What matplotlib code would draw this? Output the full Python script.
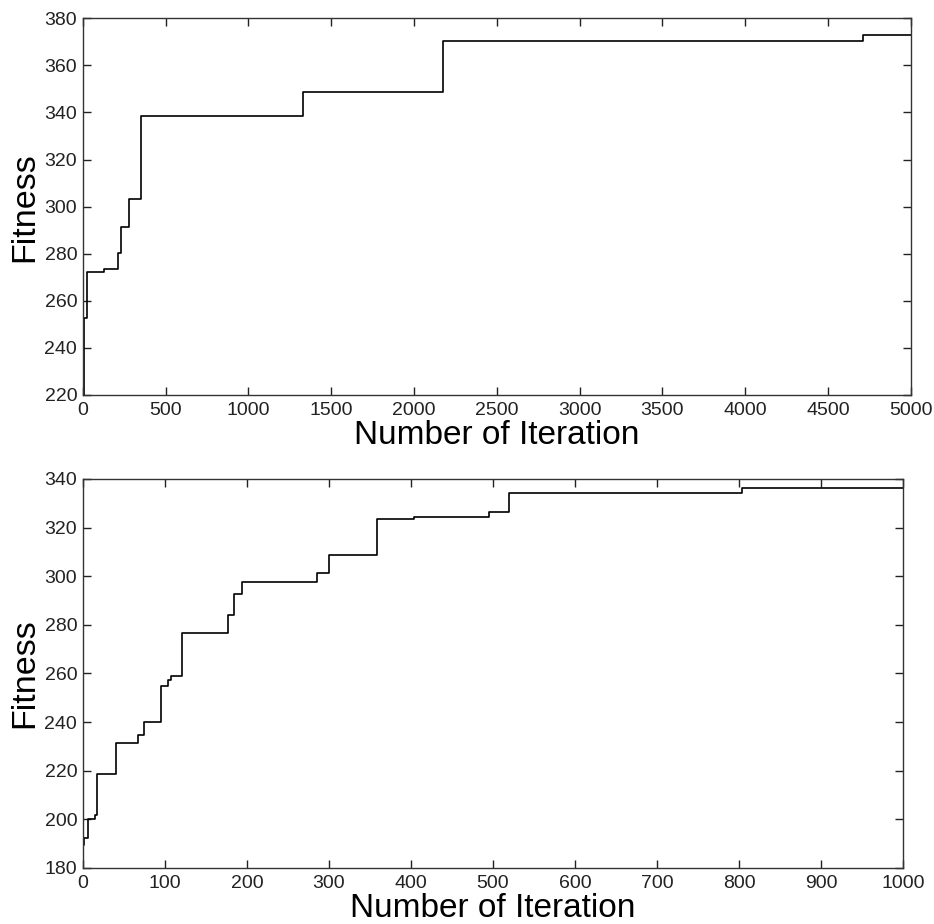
import numpy as np
import matplotlib
matplotlib.use("Agg")
import matplotlib.pyplot as plt

plt.rcParams['font.family'] = ['Liberation Sans', 'DejaVu Sans']

# top run: 5000 iterations (iteration where fitness improves, new fitness)
iter_a = [0, 8, 24, 129, 215, 229, 278, 352, 1332, 2176, 4712, 5000]
fit_a = [220, 252.7, 272.4, 273.6, 280.4, 291.3, 303.2, 338.6, 348.6, 370.3, 372.8, 372.8]

# bottom run: 1000 iterations
iter_b = [0, 2, 6, 15.5, 17.5, 40, 67, 75, 95.5, 104, 108, 121, 177, 184.5, 194,
          285.4, 299.6, 359, 404, 495.7, 519, 804, 1000]
fit_b = [189.5, 192.3, 200.3, 201.8, 218.8, 231.3, 234.7, 240, 254.7, 257.3, 259,
         276.5, 284, 292.5, 297.6, 301.3, 308.9, 323.6, 324.5, 326.4, 334.2, 336.4, 336.4]

fig = plt.figure(figsize=(9.34, 9.24), dpi=100)
W, H = 934, 924

def make_ax(x0, x1, y0, y1):
    return fig.add_axes([x0 / W, 1 - y1 / H, (x1 - x0) / W, (y1 - y0) / H])

ax1 = make_ax(82.7, 910.7, 18.3, 395)
ax2 = make_ax(82.7, 903.3, 479, 868)

ax1.plot(iter_a, fit_a, drawstyle='steps-post', color='black', lw=1.2)
ax1.set_xlim(0, 5000)
ax1.set_ylim(220, 380)
ax1.set_xticks(np.arange(0, 5001, 500))
ax1.set_yticks(np.arange(220, 381, 20))

ax2.plot(iter_b, fit_b, drawstyle='steps-post', color='black', lw=1.2)
ax2.set_xlim(0, 1000)
ax2.set_ylim(180, 340)
ax2.set_xticks(np.arange(0, 1001, 100))
ax2.set_yticks(np.arange(180, 341, 20))

for ax in (ax1, ax2):
    ax.tick_params(direction='in', top=True, right=True, length=6, width=1,
                   labelsize=14, colors='#222222')
    ax.tick_params(axis='x', pad=5)
    ax.tick_params(axis='y', pad=4)
    for s in ax.spines.values():
        s.set_color('#333333')
        s.set_linewidth(1)
    ax.set_xlabel('Number of Iteration', fontsize=24, labelpad=1)
    ax.set_ylabel('Fitness', fontsize=24.5, labelpad=3)

fig.savefig('out.png', dpi=100)
